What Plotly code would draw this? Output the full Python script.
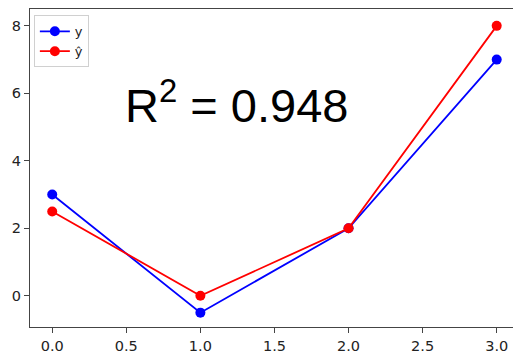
import plotly.graph_objects as go

x_vals = [0, 1, 2, 3]
y_true = [3, -0.5, 2, 7]
y_pred = [2.5, 0, 2, 8]
series_names = ["y", "ŷ"]
r2_text = "R<sup>2</sup> = 0.948"
x_ticks = [0.0, 0.5, 1.0, 1.5, 2.0, 2.5, 3.0]
x_ticklabels = ["0.0", "0.5", "1.0", "1.5", "2.0", "2.5", "3.0"]
y_ticks = [0, 2, 4, 6, 8]

fig = go.Figure()
fig.add_trace(go.Scatter(x=x_vals, y=y_true, mode="lines+markers", name=series_names[0],
                         line=dict(color="#0000ff", width=1.8),
                         marker=dict(color="#0000ff", size=10)))
fig.add_trace(go.Scatter(x=x_vals, y=y_pred, mode="lines+markers", name=series_names[1],
                         line=dict(color="#ff0000", width=1.8),
                         marker=dict(color="#ff0000", size=10)))

fig.add_annotation(x=0.48, y=5.75, xref="x", yref="y", text=r2_text, showarrow=False,
                   xanchor="left", yanchor="middle",
                   font=dict(family="Liberation Sans, Arial", size=47, color="black"))

fig.update_layout(
    width=513, height=353,
    margin=dict(l=30, r=0, t=9, b=26),
    paper_bgcolor="white", plot_bgcolor="white",
    font=dict(family="DejaVu Sans", color="#222"),
    showlegend=True,
    legend=dict(x=0.008, y=0.98, xanchor="left", yanchor="top",
                bgcolor="white", bordercolor="#d0d0d0", borderwidth=1,
                font=dict(size=13, color="#222"), itemwidth=30,
                tracegroupgap=0),
)
fig.update_xaxes(range=[-0.15, 3.11], tickmode="array", tickvals=x_ticks, ticktext=x_ticklabels,
                 showgrid=False, zeroline=False, showline=True, linecolor="#444", linewidth=1.2,
                 mirror=True, ticks="outside", ticklen=5, tickcolor="#444",
                 tickfont=dict(size=14.5, color="#222"))
fig.update_yaxes(range=[-0.925, 8.5], tickmode="array", tickvals=y_ticks,
                 showgrid=False, zeroline=False, showline=True, linecolor="#444", linewidth=1.2,
                 mirror=False, ticks="outside", ticklen=5, tickcolor="#444",
                 tickfont=dict(size=14.5, color="#222"))

fig.write_html("out.html")
